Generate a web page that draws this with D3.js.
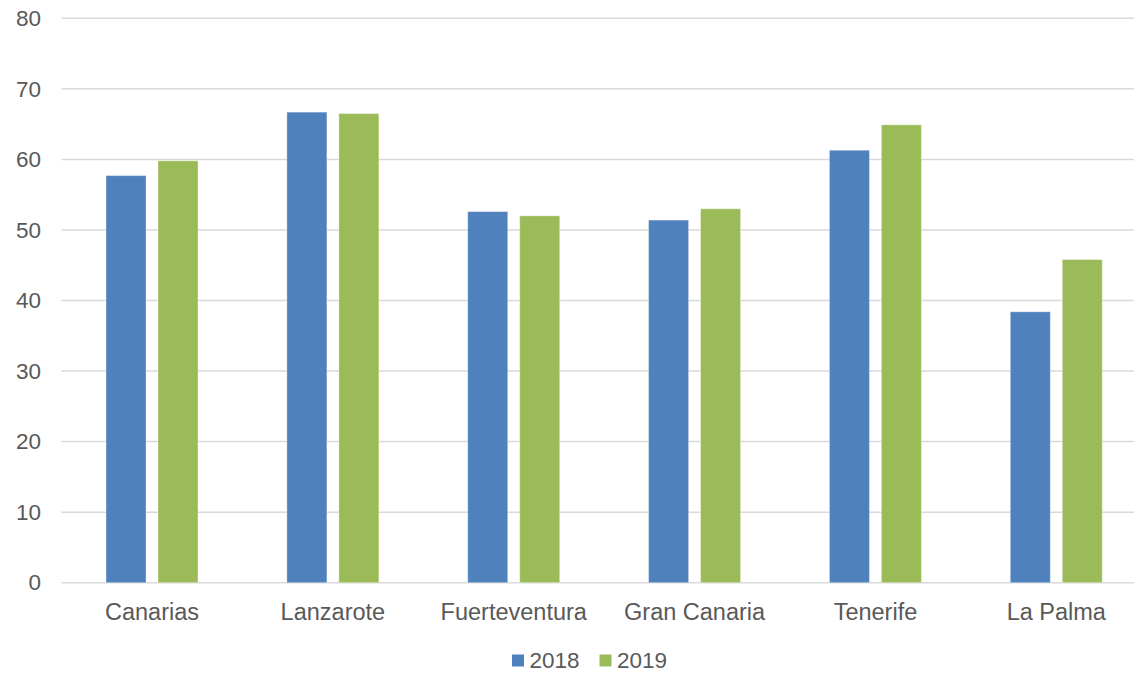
<!DOCTYPE html>
<html>
<head>
<meta charset="utf-8">
<script src="https://cdn.jsdelivr.net/npm/d3@7"></script>
<style>
  body { margin: 0; background: #fff; }
  text { font-family: "Liberation Sans", Arial, sans-serif; fill: #595959; }
</style>
</head>
<body>
<div id="chart"></div>
<script>
// Datos
const islas = ["Canarias", "Lanzarote", "Fuerteventura", "Gran Canaria", "Tenerife", "La Palma"];
const años = ["2018", "2019"];
const valores2018 = [57.7, 66.7, 52.6, 51.4, 61.3, 38.4];
const valores2019 = [59.8, 66.5, 52.0, 53.0, 64.9, 45.8];
const yTicks = [0, 10, 20, 30, 40, 50, 60, 70, 80];
const colores = ["#4F81BD", "#9BBB59"];

const width = 1134;
const height = 673;

const svg = d3.select("#chart").append("svg")
    .attr("width", width)
    .attr("height", height);

// Escalas
const x0 = d3.scaleBand().domain(islas).range([61.6, 1146.7]);
const x1 = d3.scaleBand().domain(años).range([0, 92]).paddingInner(0.23);
const y = d3.scaleLinear().domain([0, 80]).range([582.7, 18.3]);
const offset = (x0.bandwidth() - 92) / 2;

// Rejilla
svg.append("g")
    .selectAll("line")
    .data(yTicks)
    .join("line")
    .attr("x1", 61.6)
    .attr("x2", width)
    .attr("y1", d => y(d))
    .attr("y2", d => y(d))
    .attr("stroke", "#d9d9d9")
    .attr("stroke-width", 1.5);

// Eje Y
const yAxis = svg.append("g")
    .attr("transform", "translate(41,0)")
    .call(d3.axisLeft(y).tickValues(yTicks).tickSize(0).tickPadding(0));
yAxis.select(".domain").remove();
yAxis.selectAll("text")
    .style("font-size", "22.5px")
    .attr("fill", "#595959");

// Barras
const series = [valores2018, valores2019];
const grupos = svg.append("g")
    .selectAll("g")
    .data(islas)
    .join("g")
    .attr("transform", d => `translate(${x0(d) + offset},0)`);

grupos.selectAll("rect")
    .data((d, i) => años.map((a, j) => ({ año: a, valor: series[j][i], color: colores[j] })))
    .join("rect")
    .attr("x", d => x1(d.año))
    .attr("width", x1.bandwidth())
    .attr("y", d => y(d.valor))
    .attr("height", d => y(0) - y(d.valor))
    .attr("fill", d => d.color)
    .attr("stroke", "rgba(255,255,255,0.35)")
    .attr("stroke-width", 1);

// Eje X
const xAxis = svg.append("g")
    .attr("transform", `translate(0,${y(0)})`)
    .call(d3.axisBottom(x0).tickSize(0).tickPadding(0));
xAxis.select(".domain").remove();
xAxis.selectAll("text")
    .attr("y", 37)
    .attr("dy", 0)
    .style("font-size", "23.5px")
    .attr("fill", "#595959");

// Leyenda
const legendPos = [512, 599.5];
const leyenda = svg.append("g")
    .selectAll("g")
    .data(años)
    .join("g")
    .attr("transform", (d, i) => `translate(${legendPos[i]},654.5)`);
leyenda.append("rect")
    .attr("width", 12)
    .attr("height", 12)
    .attr("fill", (d, i) => colores[i]);
leyenda.append("text")
    .attr("x", 17.5)
    .attr("y", 13.5)
    .style("font-size", "22.5px")
    .text(d => d);
</script>
</body>
</html>
